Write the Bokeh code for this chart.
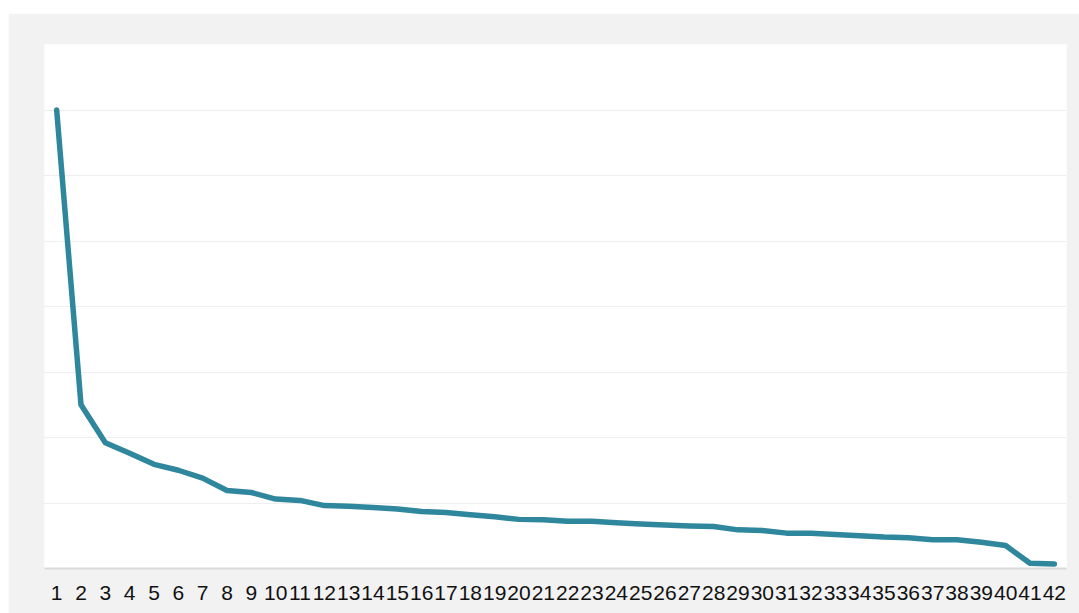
from bokeh.plotting import figure
from bokeh.models import Range1d, Spacer, FixedTicker
from bokeh.layouts import column, row
from bokeh.embed import file_html
from bokeh.resources import INLINE

categories = [str(i) for i in range(1, 43)]
values = [7.00, 2.50, 1.92, 1.76, 1.59, 1.50, 1.38, 1.19, 1.16, 1.06,
          1.04, 0.96, 0.95, 0.93, 0.91, 0.87, 0.855, 0.82, 0.79, 0.75,
          0.745, 0.72, 0.72, 0.70, 0.68, 0.665, 0.65, 0.64, 0.59, 0.58,
          0.54, 0.54, 0.52, 0.50, 0.48, 0.47, 0.44, 0.44, 0.40, 0.35,
          0.08, 0.07]
y_ticks = [0, 1, 2, 3, 4, 5, 6, 7, 8]

p = figure(width=1071, height=600, x_range=categories, y_range=Range1d(0, 8),
           output_backend="svg", toolbar_location=None,
           background_fill_color="white", border_fill_color="#f2f2f2",
           min_border_left=36, min_border_right=13, min_border_top=31,
           min_border_bottom=45)
p.outline_line_color = None

p.line(categories, values, line_color="#2f879d", line_width=5.5,
       line_join="round", line_cap="round")

p.yaxis.visible = False
p.yaxis.ticker = FixedTicker(ticks=y_ticks)
p.ygrid.ticker = FixedTicker(ticks=y_ticks)
p.ygrid.grid_line_color = "#dddddd"
p.ygrid.grid_line_dash = "1 1"
p.ygrid.grid_line_width = 1
p.xgrid.visible = False

p.xaxis.axis_line_color = "#d9d9d9"
p.xaxis.axis_line_width = 2
p.xaxis.major_tick_line_color = None
p.xaxis.minor_tick_line_color = None
p.xaxis.major_tick_out = 0
p.xaxis.major_tick_in = 0
p.xaxis.major_label_standoff = 17
p.xaxis.major_label_text_font = "Liberation Sans"
p.xaxis.major_label_text_font_size = "21px"
p.xaxis.major_label_text_color = "#111111"

layout = column(Spacer(height=13), row(Spacer(width=8), p))
open("out.html", "w").write(file_html(layout, INLINE))
